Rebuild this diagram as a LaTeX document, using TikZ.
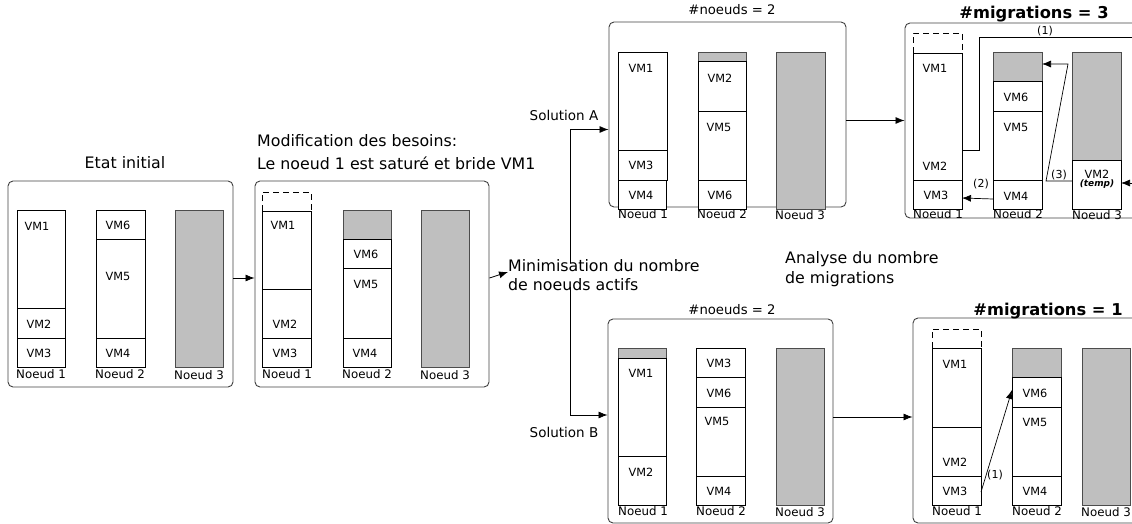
\documentclass[tikz,border=0pt]{standalone}
\usepackage{fontspec}
\setmainfont{DejaVu Sans}
\usetikzlibrary{arrows.meta}

\tikzset{
    vm/.style={draw, line width=0.9pt, fill=white},
    libre/.style={draw=black!70, line width=0.9pt, fill=black!25},
    reserve/.style={draw, line width=0.9pt, dash pattern=on 6pt off 4pt},
    panel/.style={draw=black!75, line width=0.9pt, rounded corners=5pt, inner sep=0pt},
    vmtxt/.style={font=\fontsize{11.3}{13}\selectfont, inner sep=1pt},
    ntxt/.style={font=\fontsize{11.8}{13}\selectfont, inner sep=0pt},
    grand/.style={font=\fontsize{15.8}{19.5}\selectfont, align=left, inner sep=0pt},
    titre/.style={font=\fontsize{13.2}{15}\selectfont, inner sep=0pt},
    titregras/.style={font=\fontsize{16.3}{18}\selectfont\bfseries, inner sep=0pt},
    petit/.style={font=\fontsize{11}{12}\selectfont, inner sep=0pt},
    fleche/.style={-{Latex[length=9pt,width=7pt]}, line width=0.8pt},
}

\begin{document}
\begin{tikzpicture}[x=1pt, y=-1pt]

    \useasboundingbox (0,0) rectangle (1132,524);
    \clip (0,0) rectangle (1132,524);

    % Etat initial
    \node[panel, minimum width=225pt, minimum height=206pt] (etat) at (120.5,284) {};
    \node[grand] (etat-t) at (125,163) {Etat initial};

    \draw[vm] (17,210) rectangle (65,308);
    \draw[vm] (17,308) rectangle (65,338);
    \draw[vm] (17,338) rectangle (65,367);
    \node[vmtxt] (e-vm1) at (37,226) {VM1};
    \node[vmtxt] (e-vm2) at (39,324) {VM2};
    \node[vmtxt] (e-vm3) at (39,353) {VM3};
    \node[ntxt] (e-n1) at (41,374) {Noeud 1};

    \draw[vm] (96,210) rectangle (145,239);
    \draw[vm] (96,239) rectangle (145,338);
    \draw[vm] (96,338) rectangle (145,367);
    \node[vmtxt] (e-vm6) at (118,225) {VM6};
    \node[vmtxt] (e-vm5) at (118,276) {VM5};
    \node[vmtxt] (e-vm4) at (118,353) {VM4};
    \node[ntxt] (e-n2) at (120,374) {Noeud 2};

    \draw[libre] (175,210) rectangle (223,367);
    \node[ntxt] (e-n3) at (199,375) {Noeud 3};

    % Modification des besoins
    \node[panel, minimum width=234pt, minimum height=206pt] (modif) at (372,284) {};
    \node[grand, font=\fontsize{15.8}{23.5}\selectfont, anchor=west] (modif-t) at (257,152)
        {Modification des besoins:\\Le noeud 1 est saturé et bride VM1};

    \draw[reserve] (262,211) -- (262,192) -- (311,192) -- (311,211) -- cycle;
    \draw[vm] (262,211) rectangle (311,289);
    \draw[vm] (262,289) rectangle (311,338);
    \draw[vm] (262,338) rectangle (311,367);
    \node[vmtxt] (m-vm1) at (283,225) {VM1};
    \node[vmtxt] (m-vm2) at (285,324) {VM2};
    \node[vmtxt] (m-vm3) at (285,353) {VM3};
    \node[ntxt] (m-n1) at (287,374) {Noeud 1};

    \draw[libre] (343,210) rectangle (391,239);
    \draw[vm] (343,239) rectangle (391,268);
    \draw[vm] (343,268) rectangle (391,338);
    \draw[vm] (343,338) rectangle (391,367);
    \node[vmtxt] (m-vm6) at (366,254) {VM6};
    \node[vmtxt] (m-vm5) at (366,284) {VM5};
    \node[vmtxt] (m-vm4) at (365,353) {VM4};
    \node[ntxt] (m-n2) at (367,374) {Noeud 2};

    \draw[libre] (421,210) rectangle (469,367);
    \node[ntxt] (m-n3) at (445,375) {Noeud 3};

    \draw[fleche] ([yshift=6pt]etat.east) -- ([yshift=6pt]modif.west);

    % Minimisation du nombre de noeuds actifs
    \node[grand, anchor=west] (mini) at (508,275) {Minimisation du nombre\\de noeuds actifs};
    \draw[fleche] ([yshift=6pt]modif.east) -- ([yshift=3pt]mini.west);

    % Solution A
    \node[panel, minimum width=237pt, minimum height=185pt] (solA) at (727.5,114.5) {};
    \node[titre] (solA-t) at (732,10) {\#noeuds = 2};
    \node[grand, font=\fontsize{13.5}{15}\selectfont] (solA-l) at (564,115) {Solution A};
    \coordinate (fourche) at (570,275);
    \draw[fleche] ([yshift=-4pt]fourche |- mini.north) |- ([yshift=-15pt]solA.west);

    \draw[vm] (618,52) rectangle (667,150);
    \draw[vm] (618,150) rectangle (667,180);
    \draw[vm] (618,180) rectangle (666,209);
    \node[vmtxt] (a-vm1) at (641,68) {VM1};
    \node[vmtxt] (a-vm3) at (641,165) {VM3};
    \node[vmtxt] (a-vm4) at (641,195) {VM4};
    \node[ntxt] (a-n1) at (643,214) {Noeud 1};

    \draw[libre] (698,52) rectangle (746,61);
    \draw[vm] (698,61) rectangle (746,111);
    \draw[vm] (698,111) rectangle (746,180);
    \draw[vm] (698,180) rectangle (746,209);
    \node[vmtxt] (a-vm2) at (720,78) {VM2};
    \node[vmtxt] (a-vm5) at (719,127) {VM5};
    \node[vmtxt] (a-vm6) at (720,195) {VM6};
    \node[ntxt] (a-n2) at (722,214) {Noeud 2};

    \draw[libre] (776,52) rectangle (825,209);
    \node[ntxt] (a-n3) at (800,215) {Noeud 3};

    % Solution A : migrations
    \node[panel, minimum width=240pt, minimum height=195pt] (solAm) at (1025,120.5) {};
    \node[titregras] (solAm-t) at (1034,14) {\#migrations = 3};
    \draw[fleche] (solA.east |- solAm.west) -- (solAm.west);

    \draw[reserve] (913,53) -- (913,33) -- (962,33) -- (962,53) -- cycle;
    \draw[vm] (913,53) rectangle (962,180);
    \draw[vm] (913,180) rectangle (962,209);
    \node[vmtxt] (am-vm1) at (935,68) {VM1};
    \node[vmtxt] (am-vm2) at (935,166) {VM2};
    \node[vmtxt] (am-vm3) at (936,195) {VM3};
    \node[ntxt] (am-n1) at (938,214) {Noeud 1};

    \draw[libre] (993,52) rectangle (1042,81);
    \draw[vm] (993,81) rectangle (1042,111);
    \draw[vm] (993,111) rectangle (1042,180);
    \draw[vm] (993,180) rectangle (1042,209);
    \node[vmtxt] (am-vm6) at (1016,97) {VM6};
    \node[vmtxt] (am-vm5) at (1016,127) {VM5};
    \node[vmtxt] (am-vm4) at (1016,196) {VM4};
    \node[ntxt] (am-n2) at (1018,214) {Noeud 2};

    \draw[libre] (1072,52) rectangle (1121,160);
    \draw[vm] (1072,160) rectangle (1121,209);
    \node[vmtxt, inner sep=0pt] (am-vm2t) at (1097,174) {VM2};
    \node[inner sep=0pt, font=\fontsize{9}{10}\selectfont\bfseries\itshape] (am-temp) at (1097,184) {(temp)};
    \node[ntxt] (am-n3) at (1097,215) {Noeud 3};

    % migrations (1) (2) (3)
    \coordinate (am-src1) at (962,150);
    \coordinate (am-dst1) at (1121,183);
    \coordinate (am-src2) at (993,199);
    \coordinate (am-dst2) at (962,198);
    \coordinate (am-src3) at (1072,181);
    \coordinate (am-dst3) at (1042,64);
    \draw[fleche, line width=0.7pt] (am-src1) -- (979,150) -- (979,37) -- (1145,37) |- (am-dst1);
    \node[petit] (am-m1) at (1045,31) {(1)};
    \draw[fleche, line width=0.7pt] (am-src2) -- (am-dst2);
    \node[petit] (am-m2) at (981,184) {(2)};
    \draw[fleche, line width=0.7pt] (am-src3) -- (1046,181) -- (1068,64) -- (am-dst3);
    \node[petit] (am-m3) at (1059,175) {(3)};

    % Solution B
    \node[panel, minimum width=225pt, minimum height=204pt] (solB) at (720.5,421) {};
    \node[titre] (solB-t) at (732,310) {\#noeuds = 2};
    \node[grand, font=\fontsize{13.5}{15}\selectfont] (solB-l) at (564,432) {Solution B};
    \draw[fleche] ([yshift=4pt]fourche |- mini.south) |- ([yshift=6pt]solB.west);

    \draw[libre] (618,348) rectangle (666,358);
    \draw[vm] (618,358) rectangle (666,456);
    \draw[vm] (618,456) rectangle (666,505);
    \node[vmtxt] (b-vm1) at (641,373) {VM1};
    \node[vmtxt] (b-vm2) at (641,472) {VM2};
    \node[ntxt] (b-n1) at (643,511) {Noeud 1};

    \draw[vm] (696,348) rectangle (745,377);
    \draw[vm] (696,377) rectangle (745,407);
    \draw[vm] (696,407) rectangle (745,476);
    \draw[vm] (696,476) rectangle (745,505);
    \node[vmtxt] (b-vm3) at (719,363) {VM3};
    \node[vmtxt] (b-vm6) at (719,393) {VM6};
    \node[vmtxt] (b-vm5) at (717,421) {VM5};
    \node[vmtxt] (b-vm4) at (719,491) {VM4};
    \node[ntxt] (b-n2) at (721,511) {Noeud 2};

    \draw[libre] (776,348) rectangle (824,505);
    \node[ntxt] (b-n3) at (800,512) {Noeud 3};

    % Solution B : migrations
    \node[panel, minimum width=237pt, minimum height=205pt] (solBm) at (1031.5,420.5) {};
    \node[titregras] (solBm-t) at (1048,311) {\#migrations = 1};
    \draw[fleche] ([yshift=4pt]solB.east) -- ([yshift=4pt]solB.east -| solBm.west);

    \draw[reserve] (932,348) -- (932,329) -- (981,329) -- (981,348) -- cycle;
    \draw[vm] (932,348) rectangle (981,427);
    \draw[vm] (932,427) rectangle (981,476);
    \draw[vm] (932,476) rectangle (981,505);
    \node[vmtxt] (bm-vm1) at (955,364) {VM1};
    \node[vmtxt] (bm-vm2) at (955,462) {VM2};
    \node[vmtxt] (bm-vm3) at (955,491) {VM3};
    \node[ntxt] (bm-n1) at (957,511) {Noeud 1};

    \draw[libre] (1012,348) rectangle (1061,377);
    \draw[vm] (1012,377) rectangle (1061,407);
    \draw[vm] (1012,407) rectangle (1061,476);
    \draw[vm] (1012,476) rectangle (1061,505);
    \node[vmtxt] (bm-vm6) at (1035,393) {VM6};
    \node[vmtxt] (bm-vm5) at (1035,422) {VM5};
    \node[vmtxt] (bm-vm4) at (1035,491) {VM4};
    \node[ntxt] (bm-n2) at (1037,511) {Noeud 2};

    \draw[libre] (1082,348) rectangle (1130,505);
    \node[ntxt] (bm-n3) at (1106,512) {Noeud 3};

    % migration (1)
    \coordinate (bm-src1) at (981,492);
    \coordinate (bm-dst1) at (1012,390);
    \draw[fleche, line width=0.7pt] (bm-src1) -- (bm-dst1);
    \node[petit] (bm-m1) at (995,475) {(1)};

    % Analyse du nombre de migrations
    \node[grand, anchor=west] (analyse) at (785,269) {Analyse du nombre\\de migrations};

\end{tikzpicture}
\end{document}
